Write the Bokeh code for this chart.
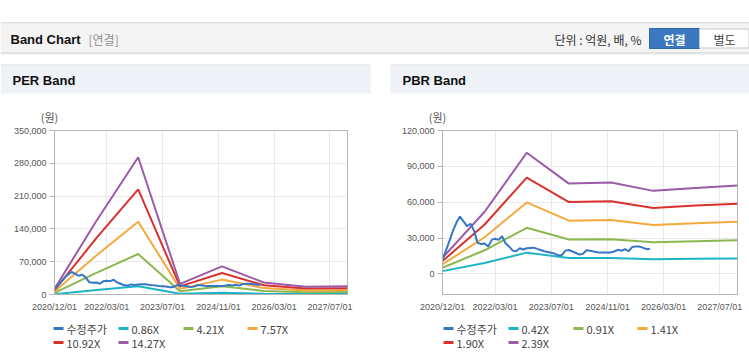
import pandas as pd
from bokeh.plotting import figure
from bokeh.models import Range1d, FixedTicker
from bokeh.layouts import column, row
from bokeh.core.properties import value
from bokeh.embed import file_html
from bokeh.resources import INLINE

# ---------------- data ----------------
x_start = "2020-12-01"
x_end = "2027-12-01"
x_tick_dates = ["2020-12-01", "2022-03-01", "2023-07-01",
                "2024-11-01", "2026-03-01", "2027-07-01"]
x_tick_labels = ["2020/12/01", "2022/03/01", "2023/07/01",
                 "2024/11/01", "2026/03/01", "2027/07/01"]

price_label = "수정주가"
price_dates = pd.date_range("2020-12-01", periods=60, freq="MS")
price_values = [12000, 20000, 28000, 36000, 43000, 48000, 44000, 40000, 42000, 36000,
                26000, 25000, 25500, 23000, 28500, 29500, 28500, 31500, 25500, 23000,
                19500, 19000, 21500, 20500, 21500, 21800, 22000, 21000, 20000, 19000,
                18300, 17800, 17000, 15500, 15800, 19500, 20000, 18800, 17500, 16200,
                16800, 19800, 19500, 18800, 18200, 18000, 18000, 18000, 18000, 19000,
                20200, 19400, 20800, 19000, 22500, 23000, 23000, 22000, 20800, 20800]

band_dates = ["2020-12-01", "2021-12-01", "2022-12-01", "2023-12-01",
              "2024-12-01", "2025-12-01", "2026-12-01", "2027-12-01"]

per_labels = ["0.86X", "4.21X", "7.57X", "10.92X", "14.27X"]
per_086 = [720, 9460, 17660, 1370, 3610, 1550, 990, 1060]
per_421 = [3540, 46310, 86430, 6690, 17680, 7580, 4840, 5180]
per_757 = [6360, 83270, 155410, 12040, 31790, 13630, 8710, 9310]
per_1092 = [9170, 120120, 224190, 17360, 45860, 19660, 12560, 13430]
per_1427 = [11990, 156970, 292960, 22690, 59930, 25690, 16410, 17550]
per_ticks = [0, 70000, 140000, 210000, 280000, 350000]

pbr_labels = ["0.42X", "0.91X", "1.41X", "1.90X", "2.39X"]
pbr_042 = [2370, 9140, 17820, 13290, 13430, 12210, 12650, 13000]
pbr_091 = [5140, 19800, 38610, 28780, 29090, 26460, 27410, 28170]
pbr_141 = [7970, 30680, 59830, 44600, 45080, 41000, 42470, 43650]
pbr_190 = [10740, 41340, 80620, 60100, 60740, 55250, 57230, 58820]
pbr_239 = [13500, 52010, 101410, 75600, 76410, 69500, 71990, 73990]
pbr_ticks = [0, 30000, 60000, 90000, 120000]

price_color = "#3576c5"
band_colors = ["#1eb4c8", "#8cb74f", "#f4a93c", "#d9312e", "#9b5ba8"]

LFONT = "Liberation Sans"
KFONT = "Noto Sans CJK KR"

t0 = pd.Timestamp(x_start)


def to_days(dates):
    return [float((pd.Timestamp(d) - t0).days) for d in dates]


def deco_fig(h, y_top, y_bottom):
    f = figure(width=749, height=h, x_range=Range1d(0, 749),
               y_range=Range1d(y_bottom, y_top), output_backend="svg",
               toolbar_location=None, x_axis_location=None, y_axis_location=None,
               min_border=0)
    f.xgrid.visible = False
    f.ygrid.visible = False
    f.outline_line_color = None
    f.background_fill_color = "white"
    f.border_fill_color = "white"
    return f


# ---------------- header strip (page pixel coordinates) ----------------
hdr = deco_fig(124, 0, 124)
hdr.quad(left=[0], right=[749], top=[22], bottom=[23], fill_color="#c4c4c4", line_color=None)
hdr.quad(left=[0], right=[749], top=[23], bottom=[52], fill_color="#f4f4f4", line_color=None)
hdr.quad(left=[0], right=[749], top=[52], bottom=[53], fill_color="#c8c8c8", line_color=None)
hdr.quad(left=[0], right=[749], top=[53], bottom=[54], fill_color="#e6e6e6", line_color=None)
hdr.quad(left=[649], right=[699], top=[28], bottom=[48], fill_color="#3a79c0",
         line_color="#2f68aa")
hdr.quad(left=[699], right=[748.5], top=[28.5], bottom=[47.5], fill_color="white",
         line_color="#c8c8c8")
hdr.quad(left=[0, 390], right=[370, 749], top=[64, 64], bottom=[65, 65],
         fill_color="#d8d8d8", line_color=None)
hdr.quad(left=[0, 390], right=[370, 749], top=[65, 65], bottom=[93, 93],
         fill_color="#eef2f7", line_color=None)

hdr.text(x=[10], y=[38.5], text=["Band Chart"], text_font=value(LFONT),
         text_font_size="13px", text_font_style="bold", text_color="#111111",
         text_baseline="middle", text_align="left")
hdr.text(x=[88], y=[38.5], text=["[연결]"], text_font=value(KFONT),
         text_font_size="12px", text_color="#909090",
         text_baseline="middle", text_align="left")
hdr.text(x=[641], y=[38.5], text=["단위 : 억원, 배, %"], text_font=value(KFONT),
         text_font_size="12px", text_color="#333333",
         text_baseline="middle", text_align="right")
hdr.text(x=[674], y=[38.5], text=["연결"], text_font=value(KFONT),
         text_font_size="12px", text_font_style="bold", text_color="white",
         text_baseline="middle", text_align="center")
hdr.text(x=[724], y=[38.5], text=["별도"], text_font=value(KFONT),
         text_font_size="12px", text_color="#444444",
         text_baseline="middle", text_align="center")
hdr.text(x=[12, 402], y=[80, 80], text=["PER Band", "PBR Band"],
         text_font=value(LFONT), text_font_size="13px",
         text_font_style="bold", text_color="#111111",
         text_baseline="middle", text_align="left")
hdr.text(x=[49, 437], y=[116, 116], text=["(원)", "(원)"],
         text_font=value(KFONT), text_font_size="11px", text_color="#555555",
         text_baseline="middle", text_align="center")


# ---------------- charts ----------------
def make_chart(width, mb_left, mb_right, y0, y1, yticks, bands):
    p = figure(width=width, height=190,
               x_range=Range1d(0, (pd.Timestamp(x_end) - t0).days),
               y_range=Range1d(y0, y1),
               output_backend="svg", toolbar_location=None,
               min_border_left=mb_left, min_border_right=mb_right,
               min_border_top=6, min_border_bottom=19)
    p.background_fill_color = "white"
    p.border_fill_color = "white"
    p.outline_line_color = "#b4b4b4"

    xt = to_days(x_tick_dates)
    p.xaxis.ticker = FixedTicker(ticks=xt)
    p.xaxis.major_label_overrides = dict(zip(xt, x_tick_labels))
    p.yaxis.ticker = FixedTicker(ticks=yticks)
    p.yaxis.major_label_overrides = {float(v): f"{v:,}" for v in yticks}

    for ax in (p.xaxis[0], p.yaxis[0]):
        ax.axis_line_color = "#b4b4b4"
        ax.major_tick_line_color = "#b4b4b4"
        ax.minor_tick_line_color = None
        ax.major_tick_in = 0
        ax.major_label_text_font = LFONT
        ax.major_label_text_font_size = "9px"
        ax.major_label_text_color = "#555555"
    p.yaxis.major_tick_out = 5
    p.yaxis.major_label_standoff = 3
    p.xaxis.major_tick_out = 0
    p.xaxis.major_label_standoff = 7

    p.xgrid.grid_line_color = "#e8e8e8"
    p.ygrid.grid_line_color = "#e8e8e8"

    bd = to_days(band_dates)
    for vals, c in zip(bands, band_colors):
        p.line(bd, vals, line_color=c, line_width=2)
    p.line(to_days(price_dates), price_values, line_color=price_color, line_width=2)
    return p


per = make_chart(380, 54, 33, 0, 350000, per_ticks,
                 [per_086, per_421, per_757, per_1092, per_1427])
pbr = make_chart(369, 62, 12, -17200, 120000, pbr_ticks,
                 [pbr_042, pbr_091, pbr_141, pbr_190, pbr_239])

# ---------------- legends (page pixel coordinates) ----------------
leg = deco_fig(50, 314, 364)
all_colors = [price_color] + band_colors
slot_x_left = [53, 118, 183, 247, 53, 118]
slot_x_right = [443, 508, 573, 637, 443, 508]
slot_y = [328, 328, 328, 328, 342, 342]
for xs, labels in ((slot_x_left, [price_label] + per_labels),
                   (slot_x_right, [price_label] + pbr_labels)):
    leg.segment(x0=xs, x1=[x + 10 for x in xs], y0=slot_y, y1=slot_y,
                line_color=all_colors, line_width=3)
    leg.text(x=[x + 13 for x in xs], y=slot_y, text=labels,
             text_font=value(KFONT), text_font_size="11px", text_color="#444444",
             text_baseline="middle", text_align="left")

layout = column(hdr, row(per, pbr), leg)
open("out.html", "w").write(file_html(layout, INLINE))
